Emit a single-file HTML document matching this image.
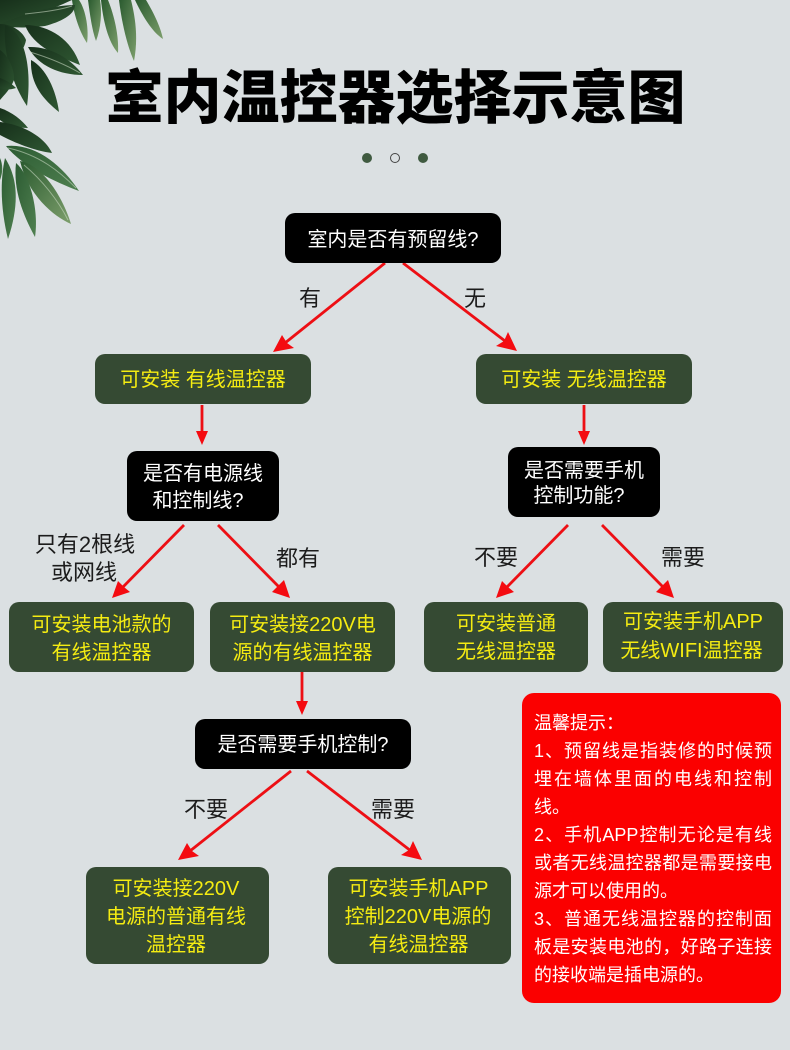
<!DOCTYPE html>
<html lang="zh">
<head>
<meta charset="utf-8">
<title>室内温控器选择示意图</title>
<style>
html,body{margin:0;padding:0}
body{width:790px;height:1050px;overflow:hidden;position:relative;background:#dbe0e2;font-family:"Liberation Sans","Noto Sans CJK SC",sans-serif}
svg{position:absolute;left:0;top:0}
.b{position:absolute;border-radius:10px;text-align:center;font-size:20px}
.k{background:#000;color:#fff}
.g{background:#354a33;color:#f5ec12}
.b div{position:absolute;left:0;right:0;line-height:28px;white-space:nowrap;margin-top:1px}
.t{position:absolute;font-size:22px;line-height:28px;color:#1c1c1c;white-space:nowrap;transform:translateX(-50%);margin-top:1px}
h1{position:absolute;left:0;width:790px;top:57px;margin:0;text-align:center;text-indent:1px;font-size:58px;line-height:84px;font-weight:900;color:#000;white-space:nowrap}
.tip{position:absolute;left:522px;top:693px;width:259px;height:310px;background:#fb0000;border-radius:12px;color:#fff;font-size:18px}
.tip div{position:absolute;left:12px;width:238px;line-height:28px;white-space:nowrap;margin-top:1px}
.tip .j{text-align:justify;text-align-last:justify;white-space:normal}
</style>
</head>
<body>
<svg width="200" height="250" viewBox="0 0 200 250">
<defs>
<linearGradient id="a" x1="0" y1="0" x2="1" y2="1"><stop offset="0" stop-color="#17301b"/><stop offset="1" stop-color="#2f5732"/></linearGradient>
<linearGradient id="c" x1="0" y1="0" x2="1" y2="1"><stop offset="0" stop-color="#2a5a2f"/><stop offset="1" stop-color="#7d9f6c"/></linearGradient>
<linearGradient id="d" x1="0" y1="0" x2="1" y2="1"><stop offset="0" stop-color="#2c5b32"/><stop offset="1" stop-color="#4f8050"/></linearGradient>
</defs>
<g fill="url(#c)">
<path d="M72 0C74 15 80 33 87 43C89 30 86 10 79 0Z"/>
<path d="M88 0C90 15 92 30 96 41C101 28 102 12 100 0Z"/>
<path d="M101 0C103 20 108 42 118 53C119 35 114 15 108 0Z"/>
<path d="M119 0C122 25 128 48 134 61C138 40 136 20 131 0Z"/>
<path d="M135 0C142 15 152 32 163 39C160 25 152 10 146 0Z"/>
</g>
<g fill="url(#a)">
<path d="M0 0H72C50 10 20 22 0 26Z"/>
<path d="M0 24C30 12 55 5 75 5C75 15 60 22 45 26C30 28 15 28 0 26Z"/>
<path d="M0 24C10 24 22 30 26 40C24 52 14 60 0 62Z"/>
<path d="M25 25C50 25 72 40 80 65C60 57 33 47 25 25Z"/>
<path d="M28 47C50 46 70 58 83 75C60 75 38 66 28 47Z"/>
<path d="M5 25C21 30 33 60 27 106C13 85 3 55 5 25Z"/>
<path d="M31 60C46 68 56 90 59 112C44 100 30 85 31 60Z"/>
<path d="M0 50C8 55 15 70 14 80C10 90 4 95 0 100Z"/>
<path d="M0 78C6 80 12 84 16 88C10 90 5 90 0 88Z"/>
<path d="M0 108C12 112 22 120 28 128C15 128 5 124 0 120Z"/>
<path d="M0 122C25 125 45 138 52 153C35 151 15 143 0 135Z"/>
</g>
<g fill="url(#d)">
<path d="M6 146C35 143 62 165 79 191C55 182 23 167 6 146Z"/>
<path d="M20 161C42 165 62 195 71 224C53 216 28 195 20 161Z" fill="url(#c)"/>
<path d="M16 163C30 175 39 210 35 237C23 215 13 190 16 163Z"/>
<path d="M5 158C16 175 21 200 8 239C2 215 -1 185 5 158Z"/>
<path d="M0 158C3 165 3 172 0 180Z"/>
</g>
<path d="M25 14C45 12 60 10 72 6M30 52C50 58 68 66 80 73M8 148C40 155 60 172 76 188M24 165C42 180 58 200 68 220" fill="none" stroke="#d3e2cc" stroke-width="1" opacity=".55"/>
</svg>

<h1>室内温控器选择示意图</h1>

<svg width="790" height="1050" viewBox="0 0 790 1050">
<circle cx="367" cy="158" r="5" fill="#3f5a40"/>
<circle cx="395" cy="158" r="4.5" fill="none" stroke="#444" stroke-width="1"/>
<circle cx="423" cy="158" r="5" fill="#3f5a40"/>
<g stroke="#ed0f14" stroke-width="2.8" fill="none">
<path d="M385 263L285 343"/><path d="M403 263L505 341"/>
<path d="M202 405V432"/><path d="M584 405V432"/>
<path d="M184 525L122 588"/><path d="M218 525L280 588"/>
<path d="M568 525L506 588"/><path d="M602 525L664 588"/>
<path d="M302 672V702"/>
<path d="M291 771L190 851"/>
<path d="M307 771L411 851"/>
</g>
<g fill="#f40b10">
<polygon points="273,352 282,335 287,343 294,348"/>
<polygon points="517,351 496,346 504,341 508,332"/>
<polygon points="202,445 196,431 208,431"/>
<polygon points="584,445 578,431 590,431"/>
<polygon points="112,598 118,581 124,587 130,592"/>
<polygon points="290,598 272,592 278,586 284,580"/>
<polygon points="496,598 502,581 508,587 514,592"/>
<polygon points="674,598 656,592 662,586 668,580"/>
<polygon points="302,715 296,701 308,701"/>
<polygon points="178,860 187,843 192,851 199,856"/>
<polygon points="422,860 401,855 409,850 413,841"/>
</g>
</svg>

<div class="b k" style="left:285px;top:213px;width:216px;height:50px"><div style="top:12px">室内是否有预留线?</div></div>
<div class="b g" style="left:95px;top:354px;width:216px;height:50px"><div style="top:11px">可安装 有线温控器</div></div>
<div class="b g" style="left:476px;top:354px;width:216px;height:50px"><div style="top:11px">可安装 无线温控器</div></div>
<div class="b k" style="left:127px;top:451px;width:152px;height:70px"><div style="top:8px">是否有电源线</div><div style="top:35px;left:-10px">和控制线?</div></div>
<div class="b k" style="left:508px;top:447px;width:152px;height:70px"><div style="top:9px">是否需要手机</div><div style="top:34px;left:-10px">控制功能?</div></div>
<div class="b g" style="left:9px;top:602px;width:185px;height:70px"><div style="top:8px">可安装电池款的</div><div style="top:36px">有线温控器</div></div>
<div class="b g" style="left:210px;top:602px;width:185px;height:70px"><div style="top:8px">可安装接220V电</div><div style="top:36px">源的有线温控器</div></div>
<div class="b g" style="left:424px;top:602px;width:164px;height:70px"><div style="top:7px">可安装普通</div><div style="top:35px">无线温控器</div></div>
<div class="b g" style="left:603px;top:602px;width:180px;height:70px"><div style="top:5px">可安装手机APP</div><div style="top:34px;left:-3px">无线WIFI温控器</div></div>
<div class="b k" style="left:195px;top:719px;width:216px;height:50px"><div style="top:11px">是否需要手机控制?</div></div>
<div class="b g" style="left:86px;top:867px;width:183px;height:97px"><div style="top:7px;left:-3px">可安装接220V</div><div style="top:35px;left:-3px">电源的普通有线</div><div style="top:63px;left:-3px">温控器</div></div>
<div class="b g" style="left:328px;top:867px;width:183px;height:97px"><div style="top:7px;left:-2px">可安装手机APP</div><div style="top:35px;left:-3px">控制220V电源的</div><div style="top:63px;left:-2px">有线温控器</div></div>

<div class="t" style="left:310px;top:284px">有</div>
<div class="t" style="left:475px;top:284px">无</div>
<div class="t" style="left:85px;top:530px">只有2根线</div>
<div class="t" style="left:84px;top:558px">或网线</div>
<div class="t" style="left:298px;top:544px">都有</div>
<div class="t" style="left:496px;top:543px">不要</div>
<div class="t" style="left:683px;top:543px">需要</div>
<div class="t" style="left:206px;top:795px">不要</div>
<div class="t" style="left:393px;top:795px">需要</div>

<div class="tip">
<div style="top:15px">温馨提示：</div>
<div class="j" style="top:43px">1、预留线是指装修的时候预</div>
<div class="j" style="top:71px">埋在墙体里面的电线和控制</div>
<div style="top:99px">线。</div>
<div class="j" style="top:127px">2、手机APP控制无论是有线</div>
<div class="j" style="top:155px">或者无线温控器都是需要接电</div>
<div style="top:183px">源才可以使用的。</div>
<div class="j" style="top:211px">3、普通无线温控器的控制面</div>
<div class="j" style="top:239px">板是安装电池的，好路子连接</div>
<div style="top:267px">的接收端是插电源的。</div>
</div>
</body>
</html>
